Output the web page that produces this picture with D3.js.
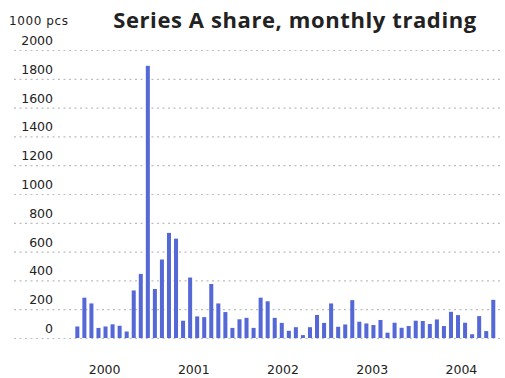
<!DOCTYPE html>
<html>
<head>
<meta charset="utf-8">
<script src="https://cdn.jsdelivr.net/npm/d3@7"></script>
<style>
  html, body { margin: 0; padding: 0; background: #fff; }
  svg { display: block; }
</style>
</head>
<body>
<svg id="chart" width="505" height="378"></svg>
<script>
// Monthly trading volume, thousands of pieces
const years = ["2000", "2001", "2002", "2003", "2004"];
const vol2000 = [80, 280, 240, 70, 80, 95, 85, 45, 330, 445, 1890, 340];
const vol2001 = [545, 730, 690, 120, 420, 150, 145, 375, 240, 180, 70, 130];
const vol2002 = [140, 70, 280, 255, 140, 105, 50, 75, 20, 75, 160, 105];
const vol2003 = [240, 78, 94, 263, 113, 101, 90, 125, 37, 106, 71, 83];
const vol2004 = [120, 118, 97, 129, 83, 182, 159, 106, 26, 152, 48, 265];
const yTicks = [0, 200, 400, 600, 800, 1000, 1200, 1400, 1600, 1800, 2000];
const unitLabel = "1000 pcs";
const title = "Series A share, monthly trading";

const series = [vol2000, vol2001, vol2002, vol2003, vol2004];
const months = [];
series.forEach((vals, yi) => vals.forEach((v, mi) => {
  months.push({ key: years[yi] + "-" + (mi + 1), value: v });
}));

const svg = d3.select("#chart");
const font = "'DejaVu Sans', Verdana, sans-serif";

const y = d3.scaleLinear().domain([0, 2000]).range([338, 50]);
const x = d3.scaleBand()
  .domain(months.map(d => d.key))
  .range([73.8, 496.8])
  .paddingInner(0.43)
  .paddingOuter(0.215);
const xYear = d3.scaleBand().domain(years).range([60, 506]);

// Dotted gridlines with value labels sitting above each line
const yAxis = d3.axisLeft(y)
  .tickValues(yTicks)
  .tickSize(0)
  .tickFormat(d3.format("d"));
const gy = svg.append("g").call(yAxis);
gy.select(".domain").remove();
gy.selectAll(".tick line").remove();
gy.selectAll(".tick")
  .append("line")
  .attr("x1", 14).attr("x2", 500)
  .attr("stroke", "#bdbdbd")
  .attr("stroke-width", 1.2)
  .attr("stroke-dasharray", "2,3.5");
gy.selectAll(".tick text")
  .attr("x", 53)
  .attr("dy", "-5.5")
  .attr("text-anchor", "end")
  .attr("fill", "#222")
  .style("font-family", font)
  .style("font-size", "12.5px");

// Bars
svg.append("g")
  .selectAll("rect")
  .data(months)
  .join("rect")
  .attr("x", d => x(d.key))
  .attr("width", x.bandwidth())
  .attr("y", d => y(d.value))
  .attr("height", d => y(0) - y(d.value))
  .attr("fill", "#5468d6");

// Year labels
const xAxis = d3.axisBottom(xYear).tickSize(0);
const gx = svg.append("g").attr("transform", "translate(0,362)").call(xAxis);
gx.select(".domain").remove();
gx.selectAll(".tick text")
  .attr("dy", "0")
  .attr("y", 12)
  .attr("fill", "#222")
  .style("font-family", font)
  .style("font-size", "12.5px");

// Unit label and title
svg.append("text")
  .attr("x", 9).attr("y", 25)
  .attr("fill", "#222")
  .style("font-family", font)
  .style("font-size", "12px")
  .style("letter-spacing", "0.6px")
  .text(unitLabel);

svg.append("text")
  .attr("x", 295).attr("y", 28)
  .attr("text-anchor", "middle")
  .attr("fill", "#222")
  .style("font-family", "'Open Sans', sans-serif")
  .style("font-weight", "bold")
  .style("font-size", "22px")
  .style("letter-spacing", "0.6px")
  .text(title);
</script>
</body>
</html>
